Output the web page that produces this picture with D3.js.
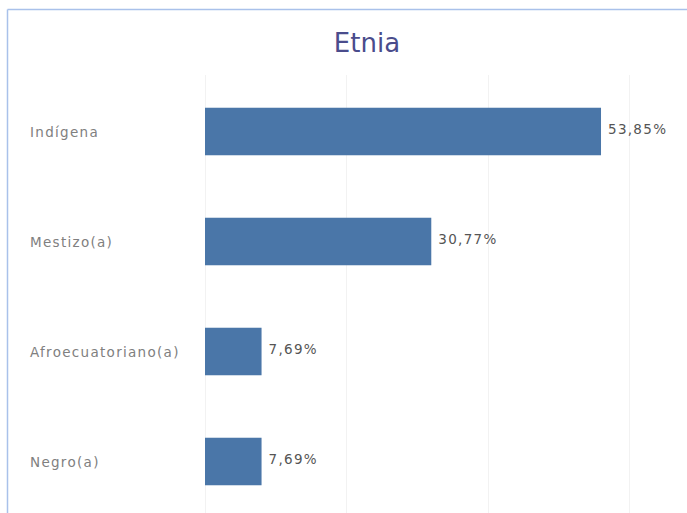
<!DOCTYPE html>
<html><head><meta charset="utf-8">
<script src="https://cdn.jsdelivr.net/npm/d3@7"></script>
<style>html,body{margin:0;padding:0;background:#fff;}svg{display:block;}</style>
</head><body>
<script>
const categories = ["Indígena", "Mestizo(a)", "Afroecuatoriano(a)", "Negro(a)"];
const values = [53.85, 30.77, 7.69, 7.69];
const valueLabels = ["53,85%", "30,77%", "7,69%", "7,69%"];
const gridTicks = [0, 19.23, 38.46, 57.69];
const title = "Etnia";

const W = 687, H = 513;
const svg = d3.select("body").append("svg").attr("width", W).attr("height", H);

// frame
svg.append("line").attr("x1", 7.5).attr("x2", W).attr("y1", 9.5).attr("y2", 9.5)
  .attr("stroke", "#a9c1ea").attr("stroke-width", 1.5);
svg.append("line").attr("x1", 7.5).attr("x2", 7.5).attr("y1", 9.5).attr("y2", H)
  .attr("stroke", "#a9c1ea").attr("stroke-width", 1.5);

const x = d3.scaleLinear().domain([0, 62]).range([205, 205 + 62 * 7.354]);
const y = d3.scaleBand().domain(categories).range([76.5, 516.5])
  .paddingInner(0.568).paddingOuter(0.284);

// gridlines
svg.append("g").selectAll("line").data(gridTicks).join("line")
  .attr("x1", d => Math.round(x(d)) + 0.5).attr("x2", d => Math.round(x(d)) + 0.5)
  .attr("y1", 75).attr("y2", H)
  .attr("stroke", "#f2f2f2").attr("stroke-width", 1);

svg.append("text").attr("x", 367).attr("y", 52).attr("text-anchor", "middle")
  .attr("font-family", "DejaVu Sans").attr("font-size", 26).attr("fill", "#4a4c8c")
  .text(title);

svg.append("g").selectAll("rect").data(values).join("rect")
  .attr("x", x(0)).attr("y", (d, i) => y(categories[i]))
  .attr("width", d => x(d) - x(0)).attr("height", y.bandwidth())
  .attr("fill", "#4a76a8");

svg.append("g").selectAll("text").data(categories).join("text")
  .attr("x", 30).attr("y", d => y(d) + y.bandwidth() / 2 + 5)
  .attr("font-family", "DejaVu Sans").attr("font-size", 13.5).attr("letter-spacing", 1.3)
  .attr("fill", "#808080").text(d => d);

svg.append("g").selectAll("text").data(values).join("text")
  .attr("x", d => x(d) + 7).attr("y", (d, i) => y(categories[i]) + y.bandwidth() / 2 + 2)
  .attr("font-family", "DejaVu Sans").attr("font-size", 13.5).attr("letter-spacing", 1.3)
  .attr("fill", "#555555").text((d, i) => valueLabels[i]);
</script>
</body></html>
